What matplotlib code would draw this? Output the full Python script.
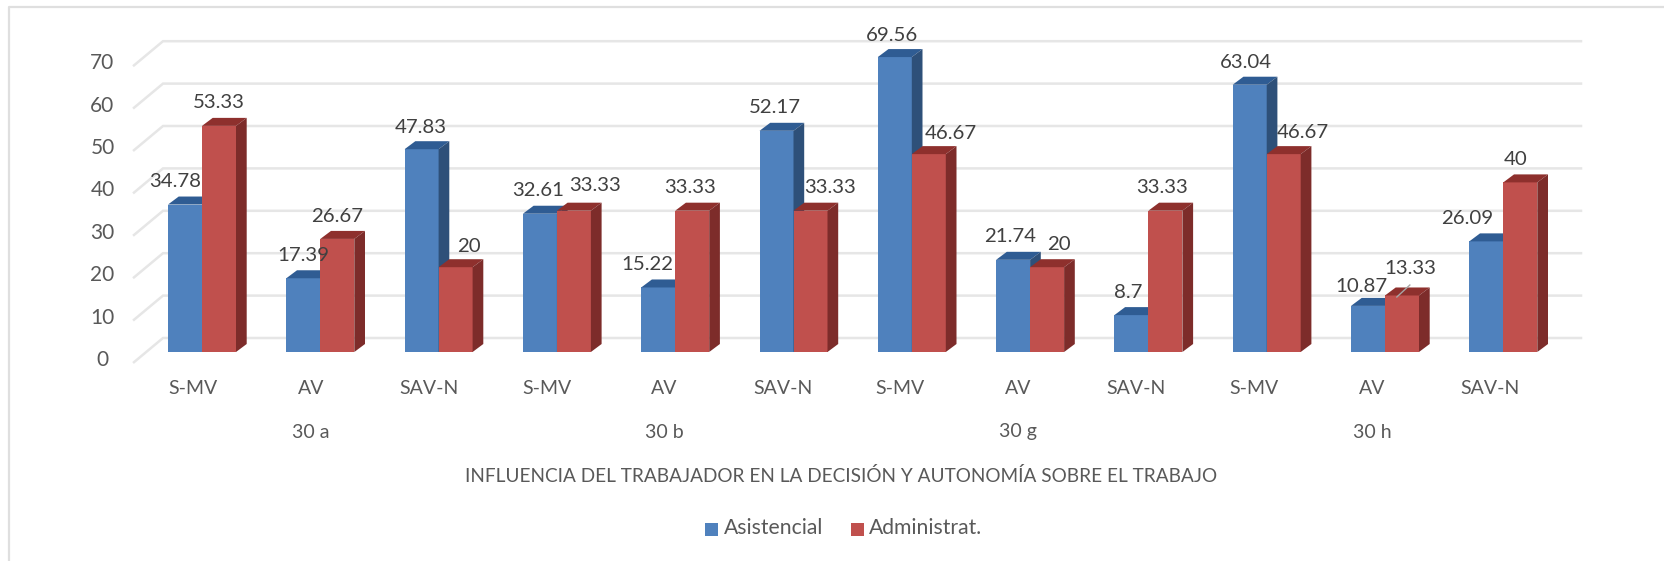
import matplotlib
matplotlib.use("Agg")
import matplotlib.pyplot as plt
from matplotlib.lines import Line2D
from matplotlib.patches import Rectangle

plt.rcParams['font.family'] = ['Lato', 'DejaVu Sans']

# chart values
categories = ["S-MV", "AV", "SAV-N"] * 4
groups = ["30 a", "30 b", "30 g", "30 h"]
asistencial = [34.78, 17.39, 47.83, 32.61, 15.22, 52.17, 69.56, 21.74, 8.7, 63.04, 10.87, 26.09]
administrat = [53.33, 26.67, 20, 33.33, 33.33, 33.33, 46.67, 20, 33.33, 46.67, 13.33, 40]
value_labels_a = ["34.78", "17.39", "47.83", "32.61", "15.22", "52.17", "69.56", "21.74", "8.7", "63.04", "10.87", "26.09"]
value_labels_b = ["53.33", "26.67", "20", "33.33", "33.33", "33.33", "46.67", "20", "33.33", "46.67", "13.33", "40"]
y_ticks = [0, 10, 20, 30, 40, 50, 60, 70]
x_title = "INFLUENCIA DEL TRABAJADOR EN LA DECISIÓN Y AUTONOMÍA SOBRE EL TRABAJO"

# label nudges in pixels, (dx, dy) from the top of each bar
nudge_a = [(-10, 23), (0, 23), (-1, 22), (-2, 23), (-11, 23), (-2, 23),
           (-3, 22), (-3, 23), (-3, 23), (-4, 22), (-7, 19), (-19, 23)]
nudge_b = [(0, 23), (0, 22), (13, 21), (21, 25), (-2, 23), (20, 23),
           (22, 21), (12, 23), (-3, 23), (19, 22), (8, 27), (-5, 23)]

# pixel layout of the original picture
W, H = 1665, 561
X0, SLOT = 202.0, 118.3
Y0, UNIT = 352.0, 4.24
BAR = 34.0 / SLOT
DX, DY = 10.7 / SLOT, 8.0 / UNIT

BLUE = ("#4F81BD", "#2F5C93", "#2E5079")
RED = ("#C0504D", "#8E302D", "#7D2C2A")
TEXT = "#404040"
AXIS_TEXT = "#595959"
GRID = "#E6E6E6"

fig = plt.figure(figsize=(W / 100, H / 100), dpi=100)
axis = fig.add_axes([0, 0, 1, 1])
axis.set_xlim(-X0 / SLOT, (W - X0) / SLOT)
axis.set_ylim((Y0 - H) / UNIT, Y0 / UNIT)
axis.axis("off")


def px_text(x, y, s, size=14, ha="center"):
    axis.text(x / W, 1 - y / H, s, transform=axis.transAxes, fontsize=size,
              color=AXIS_TEXT, ha=ha, va="center")


def square(x, y, color):
    fig.add_artist(Rectangle((x / W, 1 - (y + 13) / H), 13 / W, 13 / H,
                             transform=fig.transFigure, color=color, lw=0))


# back wall lines with the little slanted ticks on the left
back_x0, back_x1 = (163 - X0) / SLOT, (1581 - X0) / SLOT
front_x0 = (134 - X0) / SLOT
for v in y_ticks:
    axis.plot([front_x0, back_x0, back_x1], [v - 2.4, v + 3.3, v + 3.3],
              color=GRID, lw=1.8, zorder=1, solid_joinstyle="miter")


def bar3d(x, v, colors, zorder):
    axis.bar(x, v, BAR, align="edge", color=colors[0], zorder=zorder)
    axis.fill([x, x + BAR, x + BAR + DX, x + DX], [v, v, v + DY, v + DY],
              color=colors[1], lw=0, zorder=zorder)
    axis.fill([x + BAR, x + BAR + DX, x + BAR + DX, x + BAR], [0, DY, v + DY, v],
              color=colors[2], lw=0, zorder=zorder)


for i in range(len(categories)):
    bar3d(i - BAR, asistencial[i], BLUE, 2 + i * 0.01)
    bar3d(i, administrat[i], RED, 3 + i * 0.01)

for i in range(len(categories)):
    axis.annotate(value_labels_a[i], xy=(i - BAR / 2, asistencial[i]), xytext=nudge_a[i],
                  textcoords="offset pixels", ha="center", va="center",
                  fontsize=14.7, color=TEXT, zorder=6)
    axis.annotate(value_labels_b[i], xy=(i + BAR / 2, administrat[i]), xytext=nudge_b[i],
                  textcoords="offset pixels", ha="center", va="center",
                  fontsize=14.7, color=TEXT, zorder=6)
    px_text(193 + i * 117.9, 388, categories[i])

# leader line of the 13.33 label
axis.plot([10.10, 10.21], [administrat[10] - 0.36, administrat[10] + 2.47], color="#A6A6A6", lw=1, zorder=6)

for v in y_ticks:
    px_text(102.5, Y0 + 8 - v * UNIT, str(v), size=15)

for i, g in enumerate(groups):
    px_text(311 + i * 353.7, 432, g)

px_text(841, 476, x_title, size=13.7)

# legend
square(705, 523, BLUE[0])
square(851, 523, RED[0])
px_text(724, 528, "Asistencial", size=15.2, ha="left")
px_text(869, 528, "Administrat.", size=15.2, ha="left")

# outer frame of the chart, only the left and top sides show
fig.add_artist(Line2D([9.5 / W, 9.5 / W, 1], [0, 1 - 6.5 / H, 1 - 6.5 / H],
                      transform=fig.transFigure, color="#DFDFDF", lw=1.6))

fig.savefig("out.png", dpi=100)
